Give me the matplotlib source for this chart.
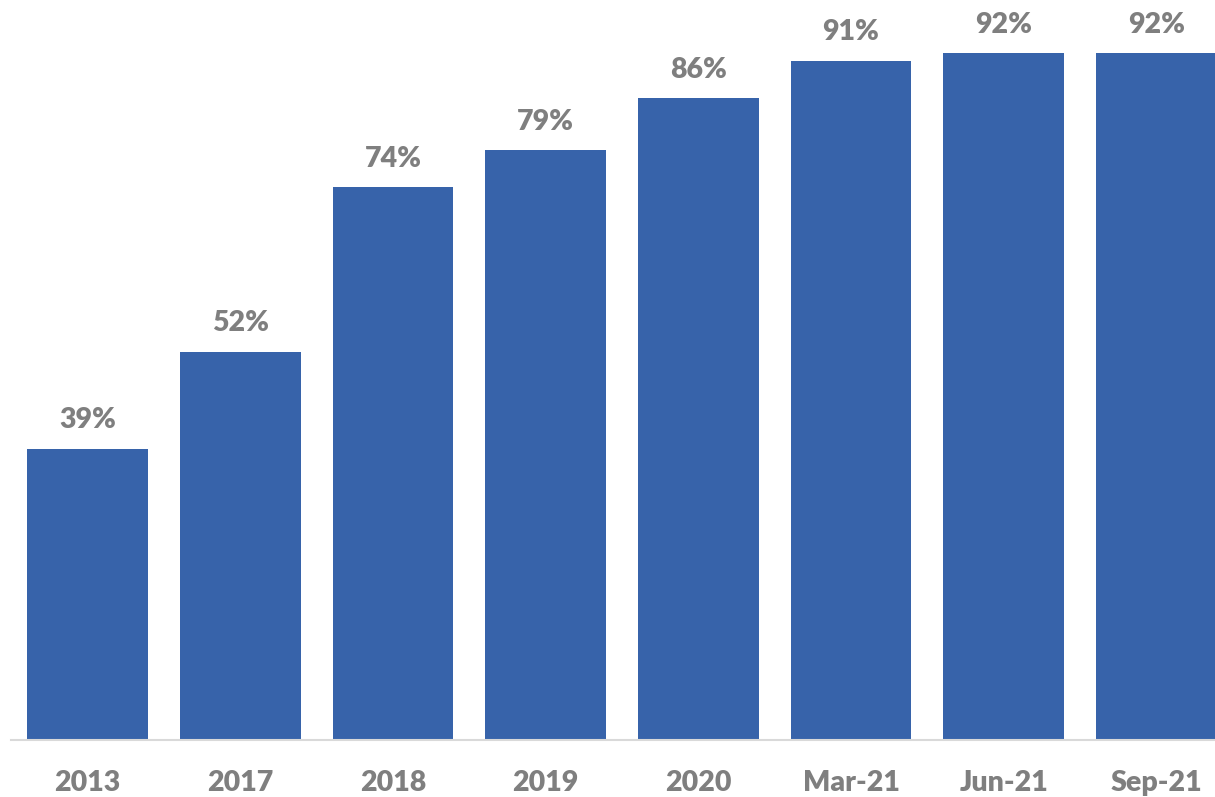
import matplotlib.pyplot as plt

categories = ["2013", "2017", "2018", "2019", "2020", "Mar-21", "Jun-21", "Sep-21"]
values = [39, 52, 74, 79, 86, 91, 92, 92]

BAR_COLOR = "#3763AA"
TEXT_COLOR = "#7F7F7F"
FONT = ["Lato", "DejaVu Sans"]

W, H = 1215, 797
fig = plt.figure(figsize=(W / 100, H / 100), dpi=100)

# axes spans from left of first slot to right of last slot; last slot runs past the edge
slot = 152.7
left_px = 87.5 - slot / 2
right_px = 87.5 + 7.5 * slot
base_px = 739.5
px_per_pct = 7.46
top_px = base_px - 100 * px_per_pct
ax = fig.add_axes([left_px / W, (H - base_px) / H,
                   (right_px - left_px) / W, (base_px - top_px) / H])
ax.set_xlim(-0.5, len(categories) - 0.5)
ax.set_ylim(0, 100)

x = range(len(categories))
bars = ax.bar(x, values, width=0.79, color=BAR_COLOR, zorder=2)

for xi, v in zip(x, values):
    ax.annotate(f"{v}%", (xi, v), xytext=(0, 11), textcoords="offset points",
                ha="center", va="bottom", fontsize=20.5, fontweight="heavy",
                color=TEXT_COLOR, family=FONT)

for s in ["top", "right", "left"]:
    ax.spines[s].set_visible(False)
ax.spines["bottom"].set_color("#D9D9D9")
ax.spines["bottom"].set_linewidth(1.5)
ax.set_yticks([])
ax.set_xticks(list(x))
ax.set_xticklabels(categories, fontsize=20.5, fontweight="heavy", color=TEXT_COLOR,
                   family=FONT)
ax.tick_params(axis="x", length=0, pad=22)

fig.savefig("out.png", dpi=100)
